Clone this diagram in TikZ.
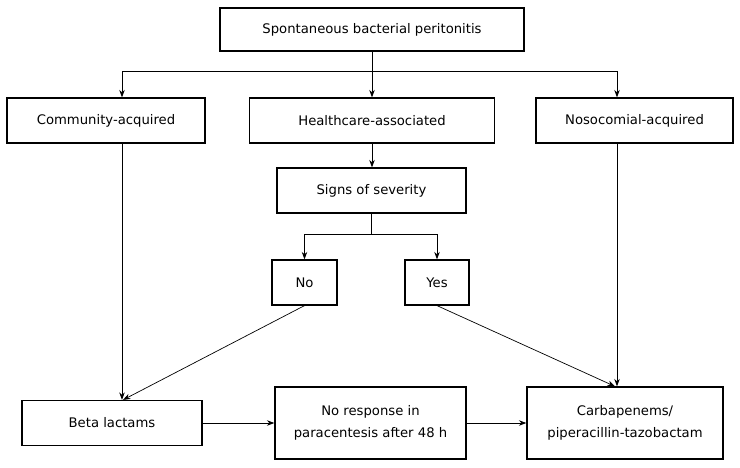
\documentclass[tikz,border=0pt]{standalone}
\usepackage{fontspec}
\setmainfont{DejaVu Sans}
\usetikzlibrary{arrows.meta,positioning}
\tikzset{
  box/.style={draw=black, line width=1.2pt, align=center, inner sep=2pt,
    minimum height=45pt, font=\fontsize{13.2}{21.5}\selectfont},
  arr/.style={line width=1pt, -{Stealth[length=7.5pt,width=5.5pt]}},
  slant/.style={line width=0.7pt, -{Stealth[length=7.5pt,width=5.5pt]}}
}
\begin{document}
\begin{tikzpicture}[x=1pt,y=-1pt]
\useasboundingbox (0,0) rectangle (740,467);

\node[box, minimum width=304pt, minimum height=43pt] (spb) at (372,29.5) {Spontaneous bacterial peritonitis};
\node[box, minimum width=198pt] (comm) at (106,120.5) {Community-acquired};
\node[box, minimum width=245pt] (health) at (372,120.5) {Healthcare-associated};
\node[box, minimum width=197pt] (noso) at (634.5,120.5) {Nosocomial-acquired};
\node[box, minimum width=189pt] (sev) at (371.5,190.5) {Signs of severity};
\node[box, minimum width=65pt] (no) at (304.5,282.5) {No};
\node[box, minimum width=64pt] (yes) at (437,282.5) {Yes};
\node[box, minimum width=180pt] (beta) at (112,423) {Beta lactams};
\node[box, minimum width=191pt, minimum height=72pt] (resp) at (370.5,423) {No response in\\paracentesis after 48 h};
\node[box, minimum width=196pt, minimum height=72pt] (carb) at (625,423) {Carbapenems/\\piperacillin-tazobactam};

% top split
\coordinate (split) at (372,71);
\draw[line width=1pt] (spb.south) -- (split);
\draw[arr] (split) -| ([xshift=16pt]comm.north);
\draw[arr] (split) -- (split |- health.north);
\draw[arr] (split) -| ([xshift=-17.5pt]noso.north);

\draw[arr] (health.south) -- (health.south |- sev.north);
\draw[line width=1pt] (sev.south) -- ++(0,21) coordinate (sevsplit);
\draw[arr] (sevsplit) -| (no.north);
\draw[arr] (sevsplit) -| (yes.north);

\draw[arr] ([xshift=16pt]comm.south) -- ([xshift=16pt]comm.south |- beta.north);
\draw[arr] ([xshift=-17.5pt]noso.south) -- ([xshift=-17.5pt]noso.south |- carb.north);
\draw[slant] (no.south) -- ([xshift=11pt]beta.north);
\draw[slant] (yes.south) -- ([xshift=-10pt]carb.north);

\draw[arr] (beta.east) -- (resp.west);
\draw[arr] (resp.east) -- (carb.west);
\end{tikzpicture}
\end{document}
